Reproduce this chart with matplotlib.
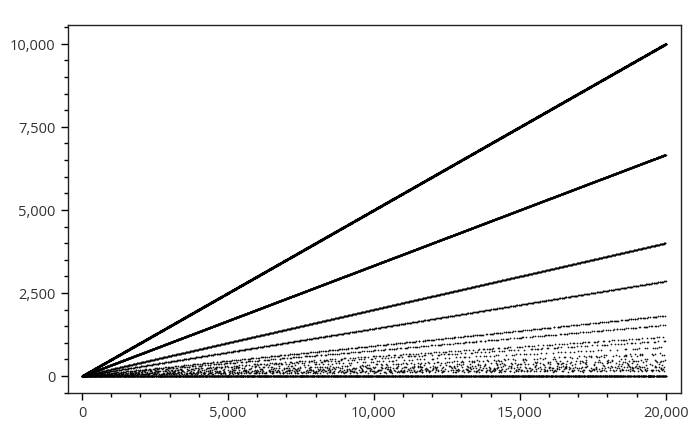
import numpy as np
import matplotlib.pyplot as plt
from matplotlib.ticker import MultipleLocator, FuncFormatter

# x values: every integer 1..20000, y: its largest proper divisor (n / smallest prime factor)
n_max = 20000
x_ticks = [0, 5000, 10000, 15000, 20000]
y_ticks = [0, 2500, 5000, 7500, 10000]

n = np.arange(1, n_max + 1)
spf = np.zeros(n_max + 1, dtype=int)
for p in range(2, n_max + 1):
    if spf[p] == 0:
        spf[p::p][spf[p::p] == 0] = p
spf[1] = 1
y = n // spf[n]

plt.rcParams['font.family'] = ['Open Sans', 'DejaVu Sans']
fig = plt.figure(figsize=(6.97, 4.31), dpi=100)
ax = fig.add_axes([0.0976, 0.086, 0.879, 0.854])

ax.plot(n, y, 'o', color='black', markersize=1.25, markeredgewidth=0, alpha=0.9)

ax.set_xlim(-480, 20510)
ax.set_ylim(-510, 10570)
ax.set_xticks(x_ticks)
ax.set_yticks(y_ticks)
ax.xaxis.set_minor_locator(MultipleLocator(1000))
ax.yaxis.set_minor_locator(MultipleLocator(500))
fmt = FuncFormatter(lambda v, pos: f"{int(v):,}")
ax.xaxis.set_major_formatter(fmt)
ax.yaxis.set_major_formatter(fmt)
ax.tick_params(which='major', length=5, width=1, labelsize=10.5, labelcolor='#333333', pad=4)
ax.tick_params(which='minor', length=3, width=1)
for s in ax.spines.values():
    s.set_linewidth(1)
    s.set_color('#222222')

fig.savefig("out.png", dpi=100)
